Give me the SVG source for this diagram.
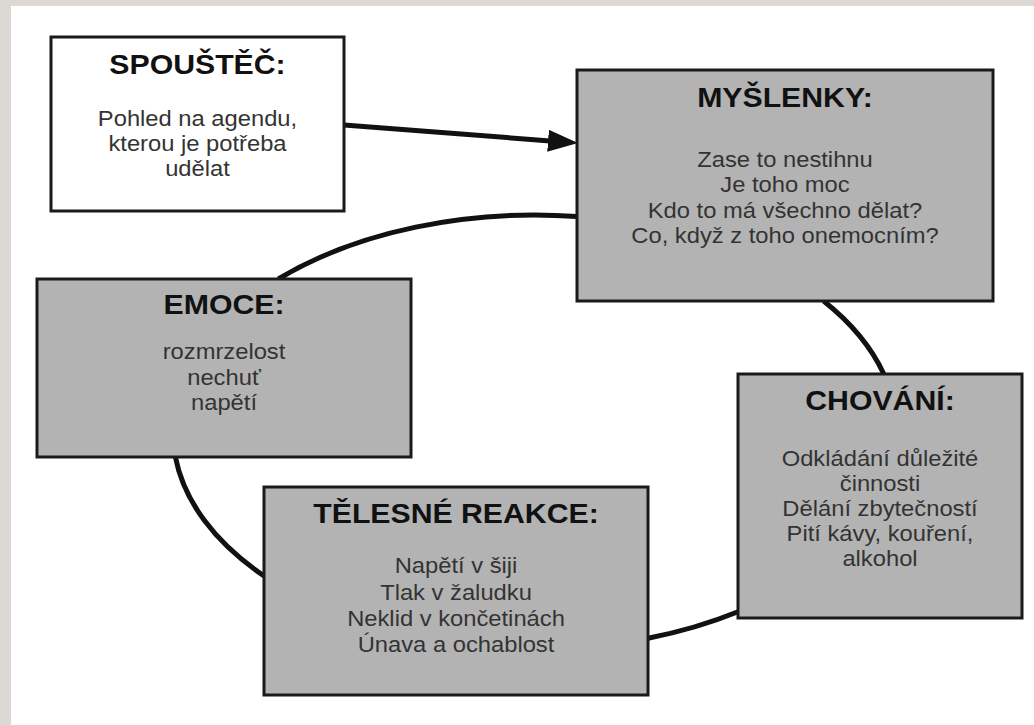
<svg xmlns="http://www.w3.org/2000/svg" width="1034" height="725" viewBox="0 0 1034 725">
  <style>
    .box { stroke: #1a1a1a; stroke-width: 3; }
    .white { fill: #ffffff; }
    .gray { fill: #b3b3b3; }
    .title { font-family: "Liberation Sans", Arial, sans-serif; font-weight: bold; font-size: 28px; fill: #111111; text-anchor: middle; }
    .body { font-family: "Liberation Sans", Arial, sans-serif; font-size: 22px; fill: #333333; text-anchor: middle; }
    .conn { fill: none; stroke: #111111; stroke-width: 5; }
  </style>
  <defs>
    <marker id="arrow" markerUnits="userSpaceOnUse" markerWidth="32" markerHeight="22" refX="15" refY="11" orient="auto">
      <path d="M0,0 L30,11 L0,22 Z" fill="#111111"/>
    </marker>
  </defs>

  <rect x="0" y="0" width="1034" height="725" fill="#dcd9d4"/>
  <rect x="11" y="6" width="1023" height="719" fill="#ffffff"/>

  <g id="connectors">
    <path class="conn" d="M344,125 L563,141.9" marker-end="url(#arrow)"/>
    <path class="conn" d="M278.3,279 A362,217 0 0 1 577,216.5"/>
    <path class="conn" d="M823.6,301 A362,217 0 0 1 883.8,374"/>
    <path class="conn" d="M738,611.7 A362,217 0 0 1 648,638.2"/>
    <path class="conn" d="M264,575.9 A362,217 0 0 1 175.4,457"/>
  </g>

  <g id="node-spoustec">
    <rect class="box white" x="51" y="37" width="293" height="174"/>
    <g transform="translate(197.5 0) scale(1.08 1)">
      <text class="title" x="0" y="74">SPOUŠTĚČ:</text>
      <text class="body" x="0" y="126">Pohled na agendu,</text>
      <text class="body" x="0" y="151">kterou je potřeba</text>
      <text class="body" x="0" y="176">udělat</text>
    </g>
  </g>

  <g id="node-myslenky">
    <rect class="box gray" x="577" y="70" width="416" height="231"/>
    <g transform="translate(785 0) scale(1.08 1)">
      <text class="title" x="0" y="107">MYŠLENKY:</text>
      <text class="body" x="0" y="167">Zase to nestihnu</text>
      <text class="body" x="0" y="192.5">Je toho moc</text>
      <text class="body" x="0" y="218">Kdo to má všechno dělat?</text>
      <text class="body" x="0" y="243.5">Co, když z toho onemocním?</text>
    </g>
  </g>

  <g id="node-emoce">
    <rect class="box gray" x="37" y="279" width="374" height="178"/>
    <g transform="translate(224 0) scale(1.08 1)">
      <text class="title" x="0" y="314">EMOCE:</text>
      <text class="body" x="0" y="359">rozmrzelost</text>
      <text class="body" x="0" y="385">nechuť</text>
      <text class="body" x="0" y="410">napětí</text>
    </g>
  </g>

  <g id="node-chovani">
    <rect class="box gray" x="738" y="374" width="284" height="244"/>
    <g transform="translate(880 0) scale(1.08 1)">
      <text class="title" x="0" y="410">CHOVÁNÍ:</text>
      <text class="body" x="0" y="466">Odkládání důležité</text>
      <text class="body" x="0" y="491">činnosti</text>
      <text class="body" x="0" y="516">Dělání zbytečností</text>
      <text class="body" x="0" y="541.5">Pití kávy, kouření,</text>
      <text class="body" x="0" y="566.5">alkohol</text>
    </g>
  </g>

  <g id="node-telesne-reakce">
    <rect class="box gray" x="264" y="487" width="384" height="208"/>
    <g transform="translate(456 0) scale(1.08 1)">
      <text class="title" x="0" y="523">TĚLESNÉ REAKCE:</text>
      <text class="body" x="0" y="573">Napětí v šiji</text>
      <text class="body" x="0" y="600">Tlak v žaludku</text>
      <text class="body" x="0" y="626.5">Neklid v končetinách</text>
      <text class="body" x="0" y="652.5">Únava a ochablost</text>
    </g>
  </g>
</svg>
